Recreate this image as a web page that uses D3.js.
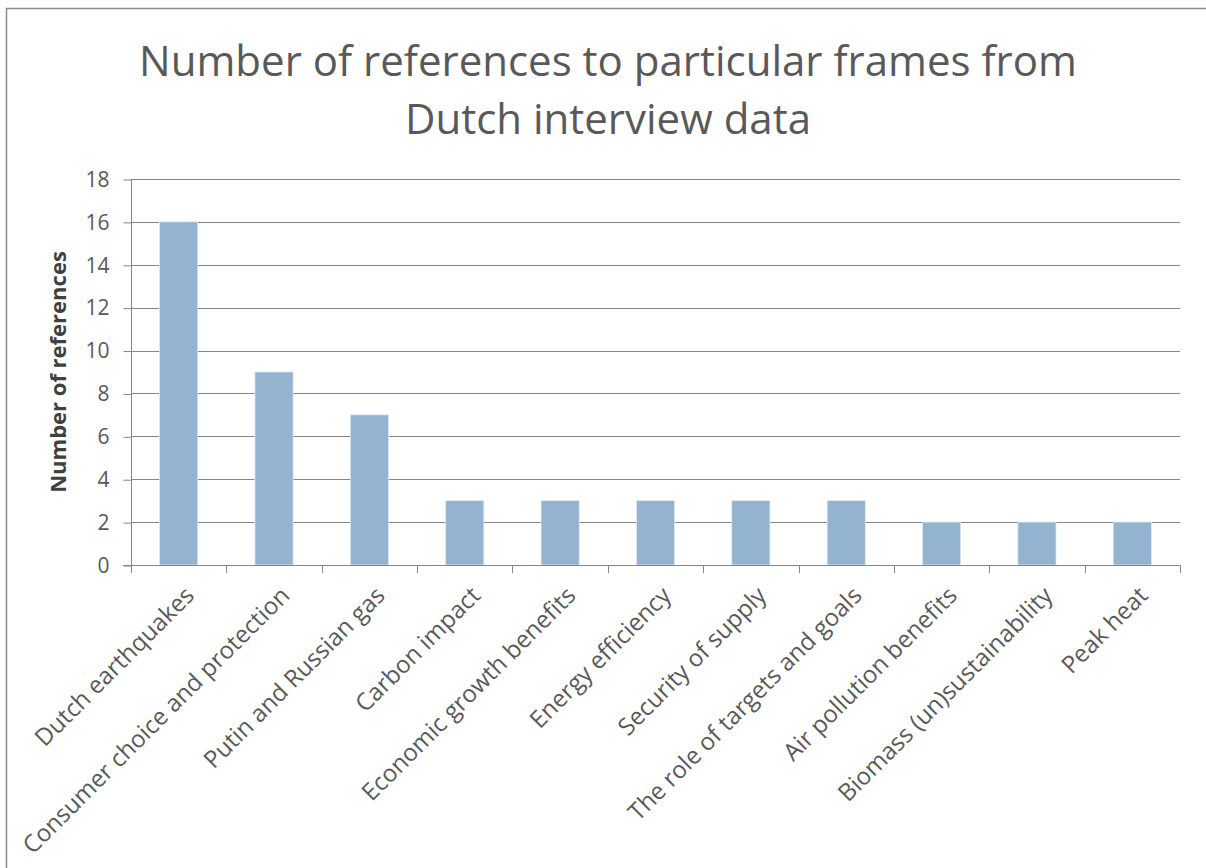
<!DOCTYPE html>
<html>
<head>
<meta charset="utf-8">
<script src="https://cdn.jsdelivr.net/npm/d3@7"></script>
<style>
  html, body { margin: 0; padding: 0; background: #fff; }
  svg { display: block; }
  text { font-family: "Open Sans", "Noto Sans", sans-serif; }
</style>
</head>
<body>
<svg id="chart" width="1206" height="868"></svg>
<script>
// Frames mentioned in the Dutch interviews and how often each came up
const categories = [
  "Dutch earthquakes",
  "Consumer choice and protection",
  "Putin and Russian gas",
  "Carbon impact",
  "Economic growth benefits",
  "Energy efficiency",
  "Security of supply",
  "The role of targets and goals",
  "Air pollution benefits",
  "Biomass (un)sustainability",
  "Peak heat"
];
const references = [16, 9, 7, 3, 3, 3, 3, 3, 2, 2, 2];
const yTicks = [0, 2, 4, 6, 8, 10, 12, 14, 16, 18];
const titleLines = ["Number of references to particular frames from", "Dutch interview data"];
const yAxisTitle = "Number of references";

const svg = d3.select("#chart");
const W = 1206, H = 868;
const plot = { left: 131, right: 1180, top: 179, bottom: 565 };

// chart area frame (runs off the right and bottom of the canvas)
svg.append("rect")
  .attr("x", 6.5).attr("y", 8.5)
  .attr("width", W + 10).attr("height", H + 10)
  .attr("fill", "#fff").attr("stroke", "#8c8c8c").attr("stroke-width", 1.5);

// title
svg.append("g").selectAll("text")
  .data(titleLines)
  .join("text")
  .attr("x", 608)
  .attr("y", (d, i) => 76 + i * 58)
  .attr("text-anchor", "middle")
  .attr("font-size", 42)
  .attr("fill", "#595959")
  .text(d => d);

const x = d3.scaleBand().domain(categories).range([plot.left, plot.right]).paddingInner(0.6).paddingOuter(0.3);
const y = d3.scaleLinear().domain([0, 18]).range([plot.bottom, plot.top]);

// horizontal gridlines
svg.append("g").selectAll("line")
  .data(yTicks.filter(t => t > 0))
  .join("line")
  .attr("x1", plot.left).attr("x2", plot.right)
  .attr("y1", d => Math.round(y(d)) + 0.5).attr("y2", d => Math.round(y(d)) + 0.5)
  .attr("stroke", "#868686").attr("stroke-width", 1);

// bars
svg.append("g").selectAll("rect")
  .data(categories.map((c, i) => ({ c, v: references[i] })))
  .join("rect")
  .attr("x", d => x(d.c))
  .attr("width", x.bandwidth())
  .attr("y", d => y(d.v))
  .attr("height", d => y(0) - y(d.v))
  .attr("fill", "#93b3d1")
  .attr("stroke", "#dce7f1")
  .attr("stroke-width", 0.8);

// y axis
const yAxis = d3.axisLeft(y).tickValues(yTicks).tickSize(8).tickPadding(14);
const gy = svg.append("g").attr("transform", `translate(${plot.left + 0.5},0.5)`).call(yAxis);
gy.select(".domain").attr("stroke", "#868686").attr("d", `M0,${plot.top}V${plot.bottom}`);
gy.selectAll(".tick line").attr("stroke", "#868686");
gy.selectAll(".tick text").attr("font-size", 21).attr("fill", "#595959")
  .attr("font-family", "\"Open Sans\", sans-serif");

// x axis: tick marks sit on band boundaries
const bounds = d3.range(categories.length + 1).map(i => plot.left + i * (plot.right - plot.left) / categories.length);
const gx = svg.append("g");
gx.append("line")
  .attr("x1", plot.left - 8).attr("x2", plot.right)
  .attr("y1", plot.bottom + 0.5).attr("y2", plot.bottom + 0.5)
  .attr("stroke", "#868686");
gx.selectAll("line.tk")
  .data(bounds)
  .join("line").attr("class", "tk")
  .attr("x1", d => Math.round(d) + 0.5).attr("x2", d => Math.round(d) + 0.5)
  .attr("y1", plot.bottom).attr("y2", plot.bottom + 8)
  .attr("stroke", "#868686");

// rotated category labels
gx.selectAll("text")
  .data(categories)
  .join("text")
  .attr("transform", d => `translate(${x(d) + x.bandwidth() / 2 + 17},${plot.bottom + 32}) rotate(-45)`)
  .attr("text-anchor", "end")
  .attr("font-size", 24)
  .attr("fill", "#595959")
  .text(d => d);

// y axis title
svg.append("text")
  .attr("transform", `translate(66,${(plot.top + plot.bottom) / 2}) rotate(-90)`)
  .attr("text-anchor", "middle")
  .attr("font-size", 22)
  .attr("font-weight", "bold")
  .attr("fill", "#404040")
  .text(yAxisTitle);
</script>
</body>
</html>
